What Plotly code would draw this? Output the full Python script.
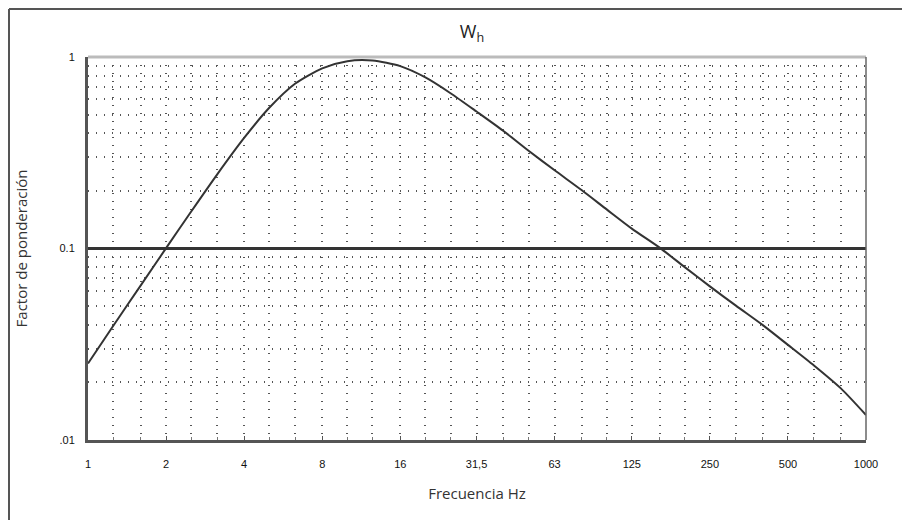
import plotly.graph_objects as go

# Third-octave band centre frequencies (Hz) and Wh weighting factors
freq = [1, 1.25, 1.6, 2, 2.5, 3.15, 4, 5, 6.3, 8, 10, 12.5, 16, 20, 25, 31.5, 40, 50, 63,
        80, 100, 125, 160, 200, 250, 315, 400, 500, 630, 800, 1000]
wh = [0.0251, 0.0394, 0.0644, 0.1004, 0.156, 0.244, 0.378, 0.543, 0.727, 0.873, 0.951,
      0.958, 0.896, 0.782, 0.647, 0.519, 0.411, 0.324, 0.256, 0.202, 0.160, 0.127, 0.101,
      0.0799, 0.0634, 0.0503, 0.0398, 0.0314, 0.0245, 0.0186, 0.0135]

x_tickvals = [1, 2, 4, 8, 16, 31.5, 63, 125, 250, 500, 1000]
x_ticktext = ["1", "2", "4", "8", "16", "31,5", "63", "125", "250", "500", "1000"]
x_minor = [1.25, 1.6, 2.5, 3.15, 5, 6.3, 10, 12.5, 20, 25, 40, 50, 80, 100, 160, 200,
           315, 400, 630, 800]
y_tickvals = [0.01, 0.1, 1]
y_ticktext = [".01", "0.1", "1"]
y_minor = [0.02, 0.03, 0.04, 0.05, 0.06, 0.07, 0.08, 0.09,
           0.2, 0.3, 0.4, 0.5, 0.6, 0.7, 0.8, 0.9]
limit = 0.1

fig = go.Figure()
fig.add_trace(go.Scatter(x=freq, y=wh, mode="lines",
                         line=dict(color="#333333", width=2, shape="spline", smoothing=0.7),
                         showlegend=False))
fig.add_trace(go.Scatter(x=[freq[0], freq[-1]], y=[limit, limit], mode="lines",
                         line=dict(color="#333333", width=3), showlegend=False))

DOT = "1px,7px"
grid = dict(showgrid=True, gridcolor="#555555", griddash=DOT, gridwidth=1.5)
tickfont = dict(family="Arial, Liberation Sans", size=11, color="#111111")

fig.update_xaxes(type="log", range=[0, 3], tickmode="array", tickvals=x_tickvals,
                 ticktext=x_ticktext, showline=True, linewidth=3, linecolor="#555555",
                 ticks="inside", ticklen=4, tickcolor="#555555", automargin=False,
                 tickfont=tickfont, ticklabelstandoff=12,
                 title=dict(text="Frecuencia Hz", standoff=20,
                            font=dict(family="Open Sans, Arial", size=15, color="#333333")),
                 minor=dict(tickmode="array", tickvals=x_minor, showgrid=True,
                            gridcolor="#555555", griddash=DOT, gridwidth=1.5,
                            ticks="inside", ticklen=3, tickcolor="#777777"),
                 zeroline=False, **grid)
fig.update_yaxes(type="log", range=[-2, 0], tickmode="array", tickvals=y_tickvals,
                 ticktext=y_ticktext, showline=True, linewidth=3, linecolor="#555555",
                 tickfont=tickfont, automargin=False, ticklabelstandoff=8,
                 title=dict(text="Factor de ponderación", standoff=29,
                            font=dict(family="Open Sans, Arial", size=15, color="#333333")),
                 minor=dict(tickmode="array", tickvals=y_minor, showgrid=True,
                            gridcolor="#555555", griddash=DOT, gridwidth=1.5),
                 zeroline=False, **grid)

# plot area lands at screen x 88-866, y 57-440 (page body adds an 8px offset)
PX0, PX1, PY0, PY1 = 88, 866, 57, 440


def px(x):
    return (x - PX0) / (PX1 - PX0)


def py(y):
    return (PY1 - y) / (PY1 - PY0)


frame = dict(color="#555555", width=2)
fig.update_layout(
    width=910, height=520,
    margin=dict(l=80, r=52, t=49, b=88),
    paper_bgcolor="white", plot_bgcolor="white",
    title=dict(text="W<sub>h</sub>", x=px(472), xref="paper", xanchor="center",
               y=1 - 24 / 520, yanchor="middle",
               font=dict(family="Open Sans, Arial", size=18, color="#222222")),
    shapes=[
        dict(type="line", xref="paper", yref="paper", x0=0, x1=1, y0=1, y1=1,
             line=dict(color="#bbbbbb", width=3)),
        dict(type="line", xref="paper", yref="paper", x0=1, x1=1, y0=0, y1=1,
             line=dict(color="#666666", width=1.5)),
        dict(type="line", xref="paper", yref="paper", x0=px(9), x1=px(907),
             y0=py(9), y1=py(9), line=frame),
        dict(type="line", xref="paper", yref="paper", x0=px(9), x1=px(9),
             y0=py(9), y1=py(530), line=frame),
        dict(type="line", xref="paper", yref="paper", x0=px(907), x1=px(907),
             y0=py(9), y1=py(530), line=frame),
    ],
)

fig.write_html("out.html")
